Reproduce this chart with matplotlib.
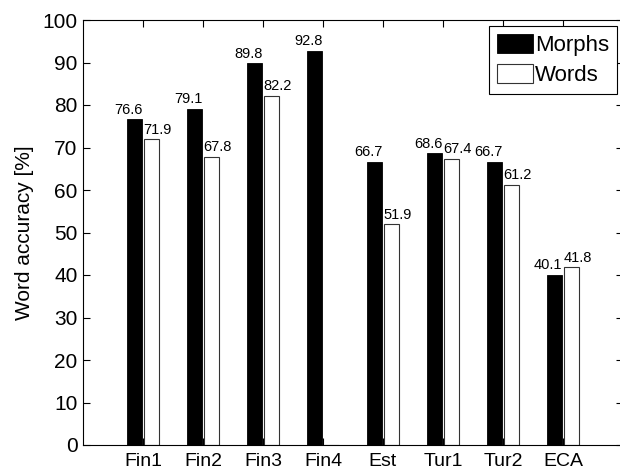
import numpy as np
import matplotlib
matplotlib.use("Agg")
import matplotlib.pyplot as plt

plt.rcParams['font.family'] = ['Liberation Sans', 'DejaVu Sans']

# data
langs = ["Fin1", "Fin2", "Fin3", "Fin4", "Est", "Tur1", "Tur2", "ECA"]
morphs = [76.6, 79.1, 89.8, 92.8, 66.7, 68.6, 66.7, 40.1]
words = [71.9, 67.8, 82.2, 0.0, 51.9, 67.4, 61.2, 41.8]
yticks = list(range(0, 101, 10))

fig = plt.figure(figsize=(6.2, 4.71), dpi=100)
# axes runs slightly past the right edge of the canvas, like the cropped original
ax = fig.add_axes([83 / 620, 26 / 471, 540 / 620, 425 / 471])

x = np.arange(1, len(langs) + 1)
w = 0.25
ax.bar(x - w / 2 - 0.01, morphs, w, color="black", edgecolor="black", lw=0.6, label="Morphs")
ax.bar(x + w / 2 + 0.01, words, w, color="white", edgecolor="#333333", lw=0.8, label="Words")

for xi, m, v in zip(x, morphs, words):
    ax.text(xi - 0.01, m + 0.6, f"{m:.1f}", ha="right", va="bottom", fontsize=10.5)
    if v > 0:
        ax.text(xi + 0.01, v + 0.6, f"{v:.1f}", ha="left", va="bottom", fontsize=10.5)

ax.set_xlim(0, 9)
ax.set_ylim(0, 100)
ax.set_xticks(x)
ax.set_xticklabels(langs, fontsize=14)
ax.set_yticks(yticks)
ax.set_yticklabels([str(t) for t in yticks], fontsize=15)
ax.tick_params(direction="in", length=5, width=0.8, top=True, right=True)
ax.tick_params(axis="x", pad=6)
ax.tick_params(axis="y", pad=4)
for s in ax.spines.values():
    s.set_linewidth(0.8)
ax.set_ylabel("Word accuracy [%]", fontsize=15, labelpad=6)

leg = ax.legend(loc="upper right", bbox_to_anchor=(1 - 6 / 540, 1 - 6 / 425), fontsize=16,
                frameon=True, fancybox=False, edgecolor="black", framealpha=1,
                handlelength=1.62, handleheight=0.95, handletextpad=0.1,
                labelspacing=0.35, borderpad=0.35, borderaxespad=0)
leg.get_frame().set_linewidth(0.8)

fig.savefig("out.png", dpi=100)
